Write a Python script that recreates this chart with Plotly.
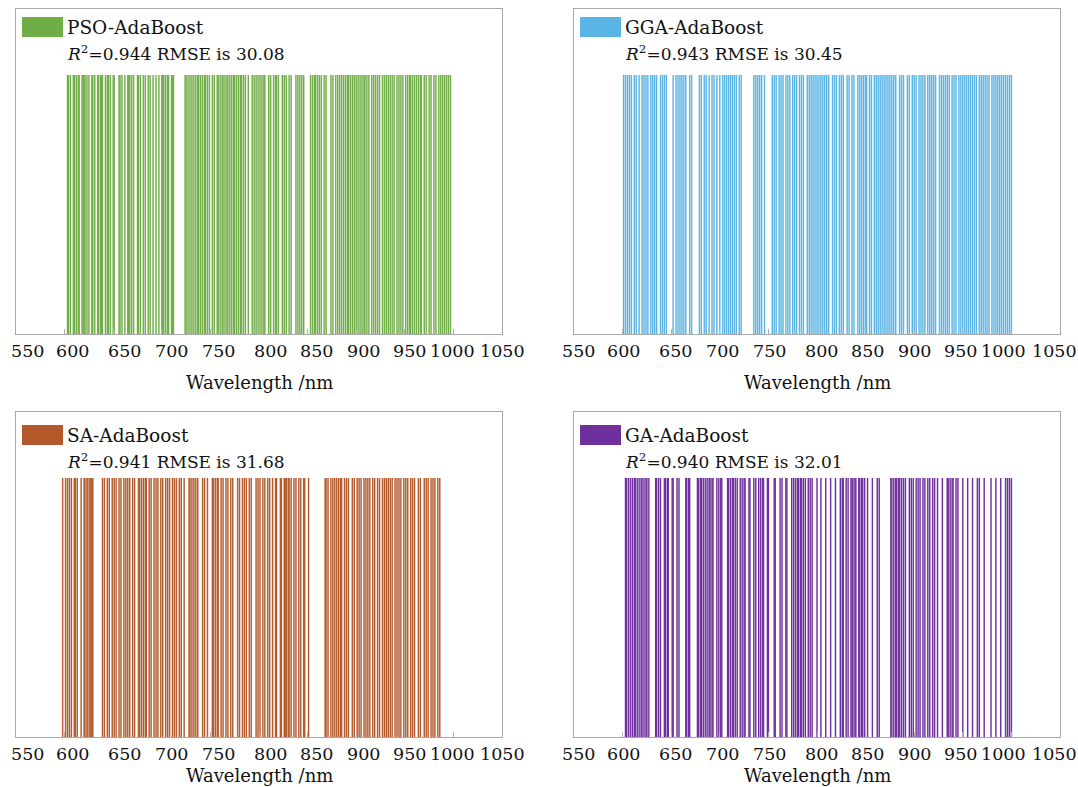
import plotly.graph_objects as go

# Selected wavelengths (nm) for each optimiser
pso_bands = [603, 604, 606, 609, 610, 612, 614, 615, 618, 619, 620, 621, 623, 625, 628, 629,
             631, 634, 635, 637, 638, 639, 642, 644, 645, 647, 650, 651, 656, 657, 659, 662,
             665, 666, 667, 669, 671, 675, 676, 678, 681, 683, 686, 688, 691, 694, 697, 700,
             701, 702, 704, 706, 707, 710, 711, 712, 724, 725, 727, 729, 731, 733, 735, 737,
             738, 740, 742, 744, 745, 747, 749, 752, 754, 757, 758, 760, 762, 763, 765, 767,
             768, 770, 772, 774, 775, 777, 779, 781, 782, 784, 786, 789, 793, 795, 797, 799,
             801, 803, 805, 806, 810, 812, 815, 817, 818, 820, 824, 826, 828, 831, 833, 838,
             840, 842, 844, 846, 853, 855, 857, 858, 860, 862, 864, 867, 869, 874, 876, 879,
             881, 883, 885, 887, 889, 891, 892, 894, 896, 898, 900, 902, 904, 906, 908, 909,
             911, 913, 916, 918, 920, 922, 924, 927, 929, 931, 933, 935, 937, 939, 942, 944,
             946, 948, 951, 953, 955, 956, 958, 960, 962, 964, 966, 967, 970, 972, 975, 977,
             980, 982, 985, 987, 989, 991, 993, 995, 997]

gga_bands = [601, 603, 605, 607, 609, 612, 614, 617, 620, 622, 624, 626, 629, 631, 633, 635,
             639, 641, 643, 645, 652, 655, 657, 659, 661, 663, 665, 669, 671, 679, 681, 684,
             686, 689, 692, 694, 697, 700, 703, 705, 707, 709, 711, 713, 715, 717, 720, 722,
             735, 737, 739, 741, 743, 746, 754, 756, 758, 761, 763, 765, 768, 770, 772, 775,
             777, 779, 782, 784, 786, 790, 792, 794, 796, 798, 800, 802, 804, 806, 808, 810,
             812, 816, 818, 820, 823, 825, 827, 831, 833, 836, 838, 842, 844, 846, 848, 850,
             851, 854, 856, 859, 861, 863, 865, 867, 869, 871, 873, 875, 877, 879, 881, 885,
             887, 889, 893, 895, 898, 900, 902, 905, 907, 909, 911, 914, 916, 918, 920, 922,
             926, 928, 930, 932, 934, 936, 939, 941, 943, 946, 948, 950, 952, 954, 956, 958,
             960, 962, 964, 967, 969, 971, 973, 975, 977, 980, 982, 984, 986, 988, 990, 992,
             994, 996, 998, 1000]

sa_bands = [598, 601, 603, 605, 607, 610, 611, 613, 617, 620, 621, 623, 624, 626, 627, 628,
            629, 639, 641, 644, 646, 649, 651, 653, 656, 658, 661, 663, 665, 667, 670, 672,
            676, 677, 679, 681, 683, 684, 687, 689, 692, 694, 696, 699, 701, 704, 706, 708,
            711, 713, 715, 718, 720, 723, 728, 729, 731, 733, 735, 737, 742, 744, 747, 752,
            753, 755, 757, 758, 761, 763, 766, 768, 771, 773, 778, 780, 783, 785, 787, 790,
            792, 797, 799, 801, 804, 806, 809, 811, 814, 817, 818, 822, 823, 826, 827, 828,
            830, 831, 833, 836, 838, 841, 843, 846, 847, 851, 868, 869, 871, 874, 876, 878,
            880, 882, 884, 885, 888, 890, 892, 896, 898, 901, 903, 905, 908, 910, 912, 914,
            917, 919, 922, 924, 927, 929, 931, 933, 935, 937, 940, 942, 944, 946, 949, 951,
            953, 956, 958, 960, 964, 966, 970, 972, 974, 977, 979, 981, 984, 986]

ga_bands = [603, 604, 606, 608, 610, 612, 613, 615, 617, 619, 620, 622, 624, 625, 627, 634,
            635, 637, 639, 643, 644, 646, 647, 651, 652, 656, 658, 665, 666, 668, 669, 677,
            678, 680, 681, 683, 685, 687, 689, 690, 692, 693, 697, 699, 701, 702, 708, 709,
            711, 713, 714, 716, 718, 721, 723, 725, 726, 730, 731, 735, 737, 740, 742, 744,
            745, 749, 750, 756, 757, 762, 764, 768, 769, 774, 776, 778, 780, 781, 783, 784,
            786, 788, 791, 793, 795, 800, 804, 809, 814, 819, 824, 826, 827, 830, 832, 835,
            836, 837, 839, 840, 843, 844, 846, 847, 849, 852, 857, 862, 864, 876, 877, 879,
            881, 882, 884, 885, 887, 889, 891, 895, 897, 899, 902, 904, 906, 909, 911, 914,
            916, 919, 921, 924, 929, 934, 935, 937, 939, 940, 943, 945, 950, 955, 960, 965,
            967, 972, 979, 984, 989, 994, 996, 998, 1000]

models = ["PSO-AdaBoost", "GGA-AdaBoost", "SA-AdaBoost", "GA-AdaBoost"]
r2_values = ["0.944", "0.943", "0.941", "0.940"]
rmse_values = ["30.08", "30.45", "31.68", "32.01"]
band_sets = [pso_bands, gga_bands, sa_bands, ga_bands]
colors = [(112, 173, 71), (90, 180, 229), (180, 89, 43), (111, 47, 157)]
tick_vals = [550, 600, 650, 700, 750, 800, 850, 900, 950, 1000, 1050]
axis_title = "Wavelength /nm"

W, H = 1078, 787
FONT = "DejaVu Serif"
FRAME = "#a8a8a8"
TEXT = "#111111"


def px(x):
    return x / W


def py(y):
    return 1 - y / H


# panel frames in pixels: (left, right, top, bottom)
frames = [(16, 502, 9, 334), (574, 1060, 9, 334),
          (16, 502, 412, 737), (574, 1060, 412, 737)]
# horizontal centres of the tick captions, left column / right column
label_x_left = [27, 72, 124, 171, 218, 270, 316, 363, 409, 452, 503]
label_x_right = [x + 551 for x in label_x_left]

fig = go.Figure()
layout = dict(width=W, height=H, margin=dict(l=0, r=0, t=0, b=0, autoexpand=False),
              paper_bgcolor="white", plot_bgcolor="white",
              barmode="overlay", showlegend=False)
shapes, annotations = [], []

for i, (bands, rgb, name) in enumerate(zip(band_sets, colors, models)):
    n = "" if i == 0 else str(i + 1)
    left, right, top, bottom = frames[i]
    solid = "rgb(%d,%d,%d)" % rgb
    # an alpha just under 1 keeps the thin bars at their true (sub-pixel) width
    bar_fill = "rgba(%d,%d,%d,0.99)" % rgb
    fig.add_trace(go.Bar(x=bands, y=[1.0] * len(bands), width=1.5,
                         marker=dict(color=bar_fill, line=dict(width=0)),
                         xaxis="x" + n, yaxis="y" + n, name=name,
                         hoverinfo="x"))
    layout["xaxis" + n] = dict(
        domain=[px(left), px(right)], range=[550, 1050], anchor="y" + n,
        automargin=False, showticklabels=False,
        tickvals=tick_vals, ticks="inside", ticklen=5, tickcolor="#b0b0b0",
        showline=True, mirror=True, linecolor=FRAME, linewidth=1,
        showgrid=False, zeroline=False)
    layout["yaxis" + n] = dict(
        domain=[py(bottom), py(top)], range=[0, 1.255], anchor="x" + n,
        automargin=False,
        showticklabels=False, ticks="", showgrid=False, zeroline=False,
        showline=True, mirror=True, linecolor=FRAME, linewidth=1)

    # tick captions
    xs = label_x_left if i % 2 == 0 else label_x_right
    for v, xc in zip(tick_vals, xs):
        annotations.append(dict(xref="paper", yref="paper", x=px(xc), y=py(bottom + 17),
                                xanchor="center", yanchor="middle", showarrow=False,
                                text=str(v), font=dict(family=FONT, size=17.5, color=TEXT)))

    # legend swatch and labels
    dx = left - 16
    dy = 0 if i < 2 else 408
    shapes.append(dict(type="rect", xref="paper", yref="paper",
                       x0=px(22 + dx), x1=px(63 + dx),
                       y0=py(37 + dy), y1=py(17 + dy),
                       fillcolor=solid, line=dict(width=0)))
    annotations.append(dict(xref="paper", yref="paper", x=px(65 + dx), y=py(27 + dy),
                            xanchor="left", yanchor="middle", showarrow=False,
                            text=name, font=dict(family=FONT, size=18.5, color=TEXT)))
    annotations.append(dict(xref="paper", yref="paper", x=px(65 + dx), y=py(53 + dy),
                            xanchor="left", yanchor="middle", showarrow=False,
                            text="<i>R</i><sup>2</sup>=" + r2_values[i] + " RMSE is " + rmse_values[i],
                            font=dict(family=FONT, size=17, color=TEXT)))
    # x-axis title
    title_y = bottom + 48 if i < 2 else 775
    annotations.append(dict(xref="paper", yref="paper", x=px((left + right) / 2),
                            y=py(title_y), xanchor="center", yanchor="middle",
                            showarrow=False, text=axis_title,
                            font=dict(family=FONT, size=18, color=TEXT)))

layout["shapes"] = shapes
layout["annotations"] = annotations
fig.update_layout(**layout)
fig.write_html("out.html")
